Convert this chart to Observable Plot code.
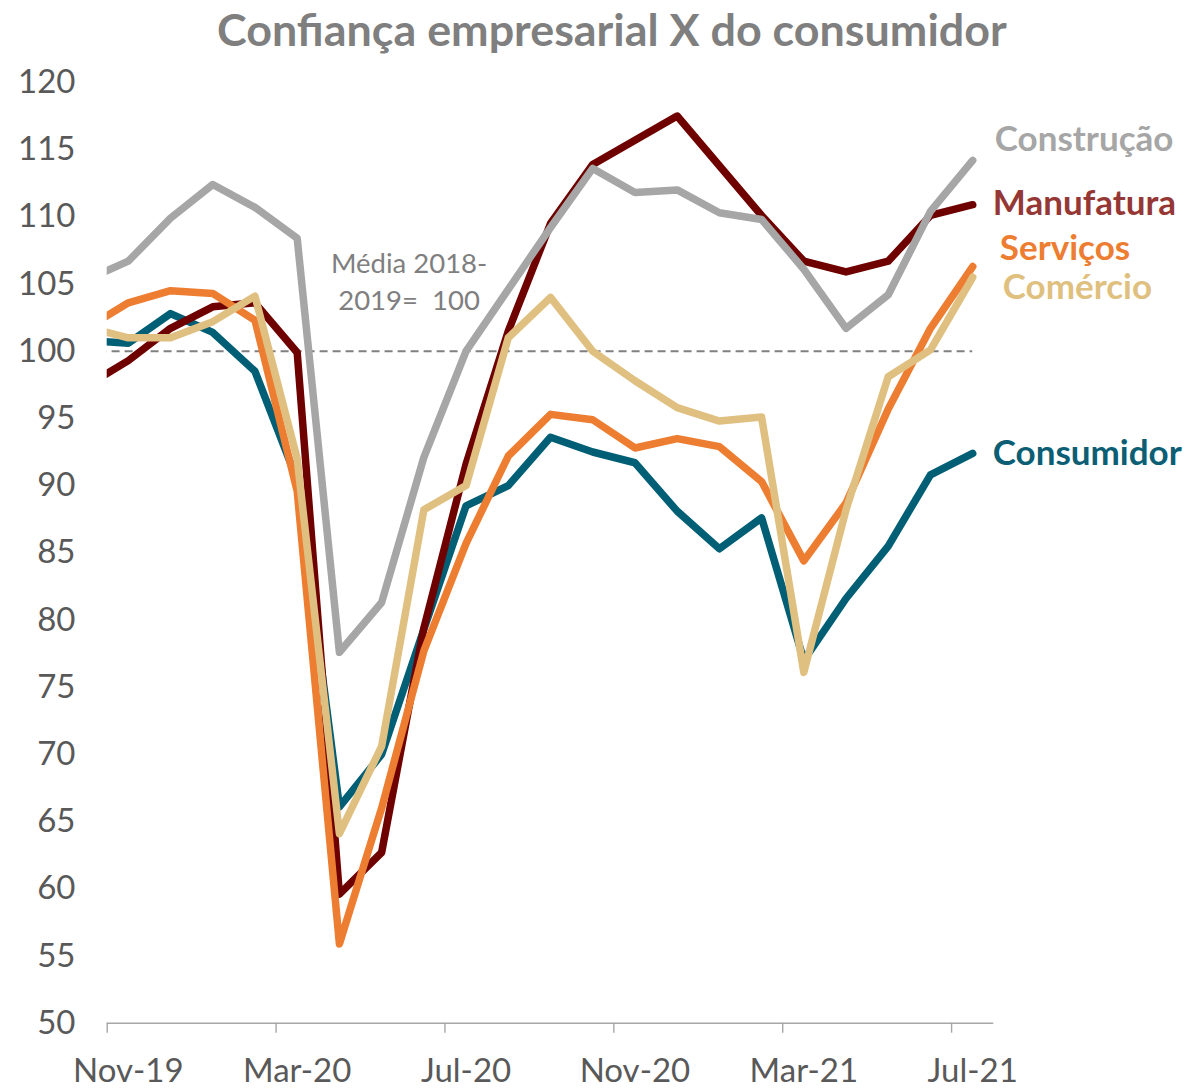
<!DOCTYPE html>
<html>
<head>
<meta charset="utf-8">
<script src="https://cdn.jsdelivr.net/npm/d3@7"></script>
<script src="https://cdn.jsdelivr.net/npm/@observablehq/plot@0.6"></script>
<style>
html, body { margin: 0; padding: 0; background: #fff; }
#wrap { position: relative; width: 1190px; height: 1089px; overflow: hidden; }
#title { position: absolute; left: 0; top: 0; }
#chart { position: absolute; left: 0; top: 60px; }
svg text { white-space: pre; }
</style>
</head>
<body>
<div id="wrap"><div id="title"></div><div id="chart"></div></div>
<script>
// ---- data ----
const months = ["Oct-19","Nov-19","Dec-19","Jan-20","Feb-20","Mar-20","Apr-20","May-20","Jun-20","Jul-20","Aug-20","Sep-20","Oct-20","Nov-20","Dec-20","Jan-21","Feb-21","Mar-21","Apr-21","May-21","Jun-21","Jul-21"];
const consumidor = [100.8,100.6,102.8,101.4,98.5,90.4,66.1,70.0,79.3,88.5,90.0,93.6,92.5,91.7,88.1,85.3,87.6,77.0,81.6,85.5,90.8,92.4];
const manufatura = [97.4,99.3,101.7,103.3,103.6,99.9,59.6,62.7,79.4,91.6,101.5,109.5,113.9,115.7,117.5,113.8,110.1,106.7,105.9,106.7,110.1,110.9];
const construcao = [105.3,106.7,109.9,112.4,110.7,108.4,77.6,81.3,92.1,100.0,104.6,109.2,113.6,111.8,112.0,110.3,109.8,106.1,101.7,104.2,110.4,114.2];
const servicos   = [101.7,103.6,104.5,104.3,102.3,89.6,55.9,66.0,77.7,85.7,92.2,95.3,94.9,92.8,93.5,92.9,90.3,84.4,88.7,95.7,101.7,106.3];
const comercio   = [101.8,101.0,101.0,102.2,104.1,92.0,64.1,70.6,88.2,90.0,101.0,104.0,100.0,97.8,95.8,94.8,95.1,76.1,88.2,98.1,100.1,105.5];
const seriesNames = ["Consumidor","Manufatura","Construção","Serviços","Comércio"];
const xTickLabels = ["Nov-19","Mar-20","Jul-20","Nov-20","Mar-21","Jul-21"];
const yTicks = [50,55,60,65,70,75,80,85,90,95,100,105,110,115,120];
const baseline = 100;
const noteText = "Média 2018-\n2019=  100";
const labelNames = ["Construção","Manufatura","Serviços","Comércio","Consumidor"];
const labelY = [115.7,111.0,107.6,104.7,92.4];
const titleText = "Confiança empresarial X do consumidor";

// ---- styling ----
const seriesColors = ["#005E75","#6F0000","#A6A6A6","#ED7D31","#E0C080"];
const labelColors = ["#A6A6A6","#953735","#ED7D31","#DFC07F","#0B5E73"];
const labelDx = [1,-1,6,9,-1];

// month index -> x position (centre of the month slot)
const pos = m => months.indexOf(m) - 0.5;
const xStart = pos(months[1]) - 0.5;
const xEnd = months.length - 1;

const allValues = [consumidor, manufatura, construcao, servicos, comercio];
const rows = seriesNames.flatMap((name, s) => allValues[s].map((v, i) => ({serie: name, x: pos(months[i]), v})));

const labelMarks = labelNames.map((name, i) => Plot.text([name], {
  frameAnchor: "right", y: () => labelY[i], text: d => d, dx: labelDx[i],
  textAnchor: "start", fontWeight: "bold", fontSize: 35, fill: labelColors[i]
}));

const chart = Plot.plot({
  width: 1190, height: 1029,
  marginTop: 21.9, marginBottom: 66.3, marginLeft: 106.7, marginRight: 196.7,
  style: {fontFamily: 'Lato, "Open Sans", sans-serif', background: "#fff", overflow: "visible"},
  x: {type: "linear", domain: [xStart, xEnd], label: null},
  y: {domain: [50, 120], label: null},
  color: {domain: seriesNames, range: seriesColors},
  marks: [
    Plot.axisY(yTicks, {tickSize: 0, tickPadding: 31.7, fontSize: 33, fill: "#595959", label: null}),
    Plot.ruleY([50], {stroke: "#A6A6A6", strokeWidth: 1.4}),
    Plot.axisX(xTickLabels.map(m => pos(m) - 0.5), {tickSize: 10, stroke: "#A6A6A6", strokeWidth: 1.4, fill: "none", label: null}),
    Plot.axisX(xTickLabels.map(m => pos(m)), {tickSize: 0, tickPadding: 35, fontSize: 33, fill: "#595959",
      tickFormat: d => xTickLabels.find(m => pos(m) === d), label: null}),
    Plot.ruleY([baseline], {x1: () => pos(months[0]), x2: () => pos(months[months.length - 1]),
      stroke: "#808080", strokeWidth: 2, strokeDasharray: "8,5", clip: true}),
    Plot.line(rows, {x: "x", y: "v", z: "serie", stroke: "serie", strokeWidth: 7.5,
      strokeLinejoin: "round", strokeLinecap: "round", clip: true}),
    Plot.text([noteText], {x: () => 7.15, y: () => 105.3, text: d => d, fontSize: 27.5, lineHeight: 1.35,
      fill: "#7F7F7F", textAnchor: "middle"}),
    ...labelMarks
  ]
});
document.getElementById("chart").appendChild(chart);

// ---- title ----
const tsvg = d3.select("#title").append("svg").attr("width", 1190).attr("height", 60);
const tt = tsvg.append("text").attr("x", 217).attr("y", 46)
  .attr("font-family", 'Lato, "Open Sans", sans-serif').attr("font-weight", "bold")
  .attr("font-size", 42).attr("fill", "#7F7F7F").text(titleText);
const w = tt.node().getComputedTextLength();
tt.attr("font-size", 42 * 790 / w);
</script>
</body>
</html>
